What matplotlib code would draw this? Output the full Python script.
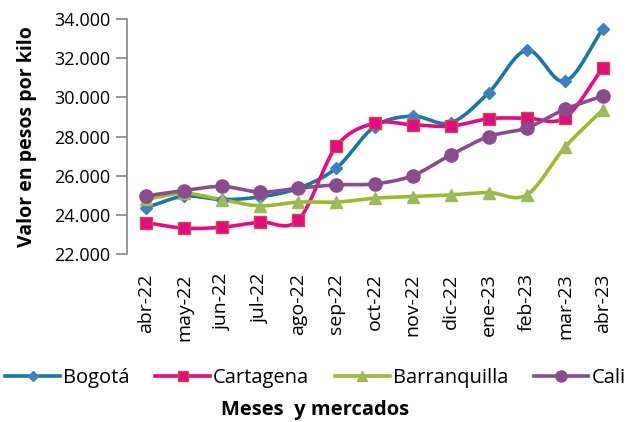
import numpy as np
import matplotlib.pyplot as plt
from matplotlib.ticker import FuncFormatter

plt.rcParams['font.family'] = ['Open Sans', 'DejaVu Sans']

# Datos (pesos por kilo)
meses = ['abr-22', 'may-22', 'jun-22', 'jul-22', 'ago-22', 'sep-22', 'oct-22',
         'nov-22', 'dic-22', 'ene-23', 'feb-23', 'mar-23', 'abr-23']
bogota = [24370, 24950, 24780, 24920, 25360, 26390, 28500,
          29040, 28700, 30240, 32410, 30820, 33500]
cartagena = [23600, 23320, 23370, 23630, 23740, 27500, 28680,
             28600, 28530, 28910, 28940, 28960, 31500]
barranquilla = [24800, 25100, 24770, 24460, 24650, 24650, 24850,
                24930, 25020, 25140, 25020, 27450, 29370]
cali = [24970, 25240, 25450, 25160, 25360, 25530, 25580,
        26000, 27060, 28000, 28440, 29390, 30070]

series = [
    ('Bogotá', bogota, '#17799F', 'D', '#3F80C2', '#3F80C2', 6.5),
    ('Cartagena', cartagena, '#E8097F', 's', '#E8097F', '#C0504D', 8.5),
    ('Barranquilla', barranquilla, '#9BBB2F', '^', '#9BBB59', '#9BBB59', 8.5),
    ('Cali', cali, '#8A4C8D', 'o', '#8A4C8D', '#8A4C8D', 9.5),
]


# suavizado tipo Excel (Catmull-Rom)
def suavizar(x, y, n=20):
    x = np.asarray(x, float)
    y = np.asarray(y, float)
    px = np.concatenate([[2 * x[0] - x[1]], x, [2 * x[-1] - x[-2]]])
    py = np.concatenate([[2 * y[0] - y[1]], y, [2 * y[-1] - y[-2]]])
    xs, ys = [], []
    t = np.linspace(0, 1, n, endpoint=False)
    for i in range(1, len(px) - 2):
        for p, out in ((px, xs), (py, ys)):
            p0, p1, p2, p3 = p[i - 1], p[i], p[i + 1], p[i + 2]
            out.extend(0.5 * ((2 * p1) + (-p0 + p2) * t
                              + (2 * p0 - 5 * p1 + 4 * p2 - p3) * t ** 2
                              + (-p0 + 3 * p1 - 3 * p2 + p3) * t ** 3))
    xs.append(x[-1])
    ys.append(y[-1])
    return np.array(xs), np.array(ys)


fig = plt.figure(figsize=(6.31, 4.22), dpi=100)
ax = fig.add_axes([127 / 631, 1 - 254 / 422, 495 / 631, 235 / 422])

x = np.arange(len(meses))
handles = []
for nombre, vals, color, mk, mfc, mec, ms in series:
    sx, sy = suavizar(x, vals)
    ax.plot(sx, sy, color=color, lw=2.6, zorder=2, solid_capstyle='round')
    ax.plot(x, vals, ls='none', marker=mk, ms=ms, mfc=mfc, mec=mec, mew=1, zorder=3)
    h, = ax.plot([], [], color=color, lw=2.6, marker=mk, ms=ms - 1.5, mfc=mfc, mec=mec)
    handles.append(h)

ax.set_xlim(-0.5, len(meses) - 0.5)
ax.set_ylim(22000, 34000)
ax.set_yticks(np.arange(22000, 34001, 2000))
ax.yaxis.set_major_formatter(FuncFormatter(lambda v, p: f'{int(v):,}'.replace(',', '.')))
ax.set_xticks(x)
ax.set_xticklabels(meses, rotation=90, fontsize=14)
ax.tick_params(axis='y', labelsize=13, length=8, color='#868686', width=1.2, pad=4)
ax.tick_params(axis='x', length=0, pad=14)

for s in ['top', 'right', 'bottom']:
    ax.spines[s].set_visible(False)
ax.spines['left'].set_color('#868686')
ax.spines['left'].set_linewidth(1.2)

ax.set_ylabel('Valor en pesos por kilo', fontsize=14, fontweight='bold', labelpad=12)

fig.legend(handles, [s[0] for s in series], loc='center', ncol=4,
           bbox_to_anchor=(0.5, 1 - 378 / 422), frameon=False, fontsize=14.5,
           handlelength=2.7, handletextpad=0.15, columnspacing=1.3)
fig.text(0.5, 1 - 410 / 422, 'Meses  y mercados', ha='center', va='center',
         fontsize=14.5, fontweight='bold')

fig.savefig('out.png', dpi=100)
